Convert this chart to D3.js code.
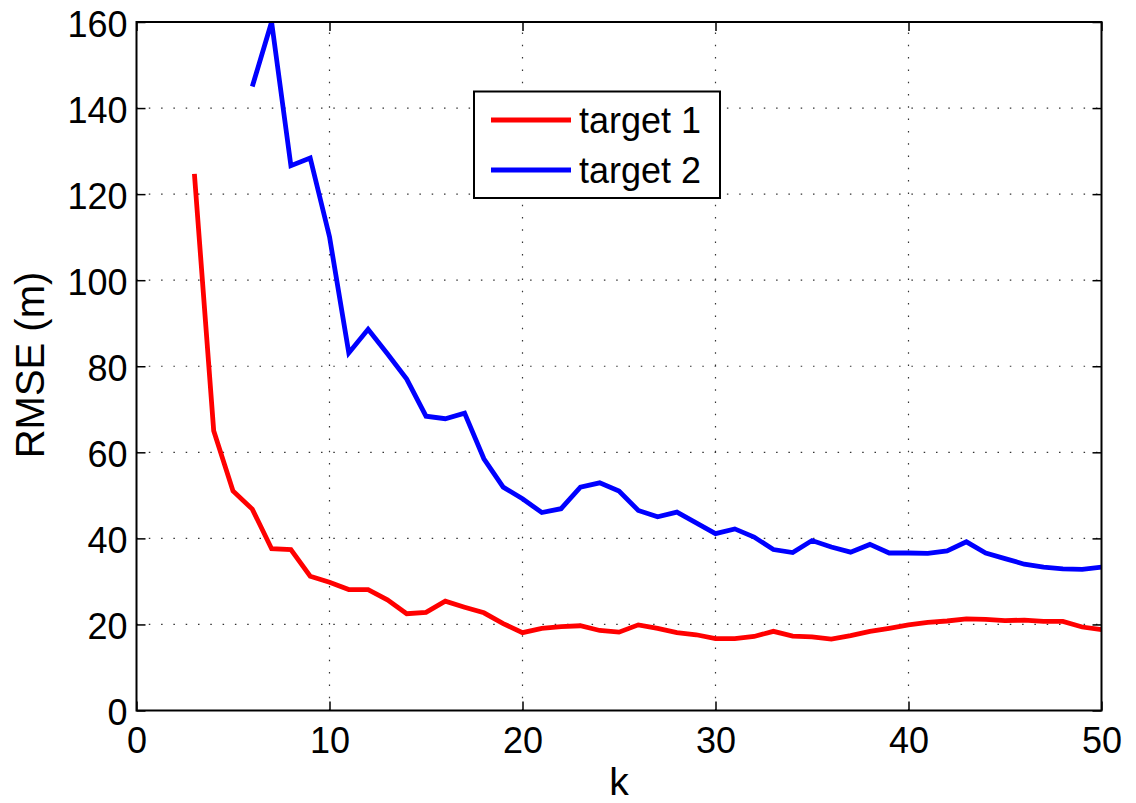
<!DOCTYPE html>
<html>
<head>
<meta charset="utf-8">
<script src="https://cdn.jsdelivr.net/npm/d3@7"></script>
<style>
html,body{margin:0;padding:0;background:#fff;}
svg{display:block;font-family:"Liberation Sans",Arial,Helvetica,sans-serif;}
</style>
</head>
<body>
<svg id="chart" width="1136" height="803"></svg>
<script>
// k values for each series
const kTarget1 = d3.range(3, 51);
const kTarget2 = d3.range(6, 51);
const rmseTarget1 = [124.7, 65.0, 51.0, 46.8, 37.6, 37.4, 31.2, 29.8, 28.1, 28.1,
  25.7, 22.5, 22.8, 25.4, 24.0, 22.7, 20.2, 18.1, 19.1, 19.5,
  19.7, 18.6, 18.2, 19.9, 19.1, 18.1, 17.6, 16.7, 16.7, 17.2,
  18.4, 17.3, 17.1, 16.6, 17.4, 18.4, 19.1, 19.9, 20.5, 20.8,
  21.3, 21.2, 20.9, 21.0, 20.7, 20.7, 19.4, 18.8];
const rmseTarget2 = [145.0, 160.0, 126.6, 128.4, 110.1, 83.1, 88.6, 82.9, 77.0, 68.4,
  67.8, 69.1, 58.5, 51.9, 49.2, 46.0, 46.9, 51.9, 52.9, 51.0,
  46.5, 45.0, 46.1, 43.6, 41.1, 42.2, 40.3, 37.4, 36.7, 39.5,
  38.0, 36.8, 38.6, 36.6, 36.6, 36.5, 37.1, 39.2, 36.6, 35.3,
  34.0, 33.3, 32.9, 32.8, 33.3];
const seriesNames = ["target 1", "target 2"];
const seriesColors = ["#ff0000", "#0000ff"];
const xTicks = [0, 10, 20, 30, 40, 50];
const yTicks = [0, 20, 40, 60, 80, 100, 120, 140, 160];
const xLabel = "k";
const yLabel = "RMSE (m)";

const L = 136.5, R = 1101.5, T = 22, B = 710.5;
const svg = d3.select("#chart");
const x = d3.scaleLinear().domain([0, 50]).range([L, R]);
const y = d3.scaleLinear().domain([0, 160]).range([B, T]);

// grid
const grid = svg.append("g").attr("stroke", "#333").attr("stroke-width", 1.2)
  .attr("stroke-dasharray", "1.5,10.8");
xTicks.slice(1, -1).forEach(t => {
  grid.append("line").attr("x1", x(t)).attr("x2", x(t)).attr("y1", B).attr("y2", T);
});
yTicks.slice(1, -1).forEach(t => {
  grid.append("line").attr("x1", L).attr("x2", R).attr("y1", y(t)).attr("y2", y(t));
});

// clip
svg.append("clipPath").attr("id", "clip").append("rect")
  .attr("x", L).attr("y", T - 1).attr("width", R - L).attr("height", B - T + 1);

const line = d3.line().x(d => x(d[0])).y(d => y(d[1]));
const data = [d3.zip(kTarget1, rmseTarget1), d3.zip(kTarget2, rmseTarget2)];
data.forEach((d, i) => {
  svg.append("path").datum(d).attr("d", line)
    .attr("fill", "none").attr("stroke", seriesColors[i]).attr("stroke-width", 4.8)
    .attr("stroke-linejoin", "miter").attr("clip-path", "url(#clip)");
});

// axes box
svg.append("rect").attr("x", L).attr("y", T).attr("width", R - L).attr("height", B - T)
  .attr("fill", "none").attr("stroke", "#000").attr("stroke-width", 2);

// axes with inward ticks
const tl = 9;
const axB = svg.append("g").attr("transform", `translate(0,${B})`)
  .call(d3.axisBottom(x).tickValues(xTicks).tickSize(-tl).tickPadding(17));
const axT = svg.append("g").attr("transform", `translate(0,${T})`)
  .call(d3.axisTop(x).tickValues(xTicks).tickSize(-tl).tickFormat(""));
const axL = svg.append("g").attr("transform", `translate(${L},0)`)
  .call(d3.axisLeft(y).tickValues(yTicks).tickSize(-tl).tickPadding(9));
const axR = svg.append("g").attr("transform", `translate(${R},0)`)
  .call(d3.axisRight(y).tickValues(yTicks).tickSize(-tl).tickFormat(""));
[axB, axT, axL, axR].forEach(a => {
  a.select(".domain").remove();
  a.selectAll(".tick line").attr("stroke", "#000").attr("stroke-width", 1.5);
  a.selectAll("text").attr("fill", "#000").attr("font-size", 36)
    .attr("font-family", "'Liberation Sans',Arial,sans-serif");
});
axB.selectAll("text").attr("dy", "0.72em");
axL.selectAll("text").attr("dy", "0.4em");

// axis labels
svg.append("text").attr("x", (L + R) / 2).attr("y", 795).attr("text-anchor", "middle")
  .attr("font-size", 39).attr("fill", "#000").text(xLabel);
svg.append("text").attr("transform", `translate(43.5,365) rotate(-90)`)
  .attr("text-anchor", "middle").attr("font-size", 40).attr("fill", "#000").text(yLabel);

// legend
const lg = svg.append("g");
lg.append("rect").attr("x", 474).attr("y", 91.5).attr("width", 246).attr("height", 106.5)
  .attr("fill", "#fff").attr("stroke", "#000").attr("stroke-width", 2);
seriesNames.forEach((n, i) => {
  const yy = 120 + i * 50;
  lg.append("line").attr("x1", 491).attr("x2", 571).attr("y1", yy).attr("y2", yy)
    .attr("stroke", seriesColors[i]).attr("stroke-width", 4.8);
  lg.append("text").attr("x", 579).attr("y", yy).attr("dy", "0.36em")
    .attr("font-size", 36).attr("fill", "#000").text(n);
});
</script>
</body>
</html>
